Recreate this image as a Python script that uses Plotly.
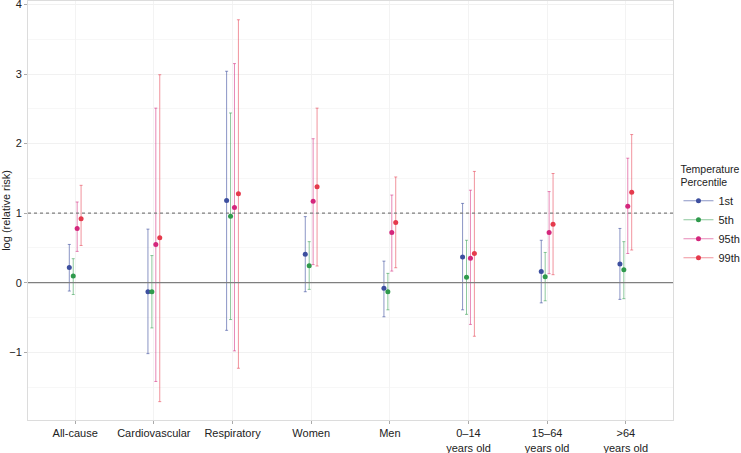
import plotly.graph_objects as go

categories = ["All-cause", "Cardiovascular", "Respiratory", "Women", "Men",
              "0–14<br>years old", "15–64<br>years old", ">64<br>years old"]
series_names = ["1st", "5th", "95th", "99th"]

est_1st = [0.22, -0.13, 1.18, 0.41, -0.08, 0.37, 0.16, 0.27]
low_1st = [-0.12, -1.02, -0.685, -0.13, -0.49, -0.39, -0.29, -0.24]
up_1st = [0.55, 0.77, 3.04, 0.95, 0.31, 1.14, 0.61, 0.78]

est_5th = [0.095, -0.13, 0.957, 0.244, -0.13, 0.08, 0.086, 0.187]
low_5th = [-0.17, -0.65, -0.53, -0.096, -0.39, -0.455, -0.26, -0.23]
up_5th = [0.345, 0.39, 2.44, 0.59, 0.134, 0.61, 0.435, 0.59]

est_95th = [0.78, 0.55, 1.08, 1.17, 0.72, 0.35, 0.72, 1.10]
low_95th = [0.45, -1.42, -0.98, 0.26, 0.167, -0.60, 0.13, 0.42]
up_95th = [1.16, 2.51, 3.15, 2.07, 1.26, 1.33, 1.31, 1.79]

est_99th = [0.92, 0.645, 1.28, 1.38, 0.866, 0.42, 0.84, 1.30]
low_99th = [0.535, -1.71, -1.23, 0.24, 0.215, -0.77, 0.115, 0.47]
up_99th = [1.40, 2.99, 3.78, 2.51, 1.52, 1.60, 1.57, 2.13]

estimates = [est_1st, est_5th, est_95th, est_99th]
lowers = [low_1st, low_5th, low_95th, low_99th]
uppers = [up_1st, up_5th, up_95th, up_99th]

colors = ["#3d4f9f", "#2f9a4c", "#d4267c", "#e53a4c"]
bar_colors = ["rgba(61,79,159,0.6)", "rgba(47,154,76,0.55)",
              "rgba(212,38,124,0.55)", "rgba(229,58,76,0.55)"]
offsets = [-0.075, -0.025, 0.025, 0.075]

fig = go.Figure()

for k, name in enumerate(series_names):
    xs = [i + 1 + offsets[k] for i in range(len(categories))]
    est = estimates[k]
    plus = [u - e for u, e in zip(uppers[k], est)]
    minus = [e - l for e, l in zip(est, lowers[k])]
    fig.add_trace(go.Scatter(
        x=xs, y=est, mode="markers", showlegend=False,
        marker=dict(color=colors[k], size=5),
        error_y=dict(type="data", symmetric=False, array=plus, arrayminus=minus,
                     color=bar_colors[k], thickness=1, width=1.5),
    ))

for k, name in enumerate(series_names):
    fig.add_trace(go.Scatter(
        x=[None], y=[None], mode="lines+markers", name=name,
        line=dict(color=bar_colors[k], width=1),
        marker=dict(color=colors[k], size=5),
    ))

fig.add_hline(y=0, line=dict(color="#7f7f7f", width=1.2))
fig.add_hline(y=1, line=dict(color="#7f7f7f", width=1.2, dash="dot"))

fig.update_layout(
    width=741, height=453,
    margin=dict(l=28, r=68, t=1, b=33, autoexpand=False),
    paper_bgcolor="white", plot_bgcolor="white",
    font=dict(family="Liberation Sans, Arial, sans-serif", size=11, color="#222"),
    legend=dict(
        title=dict(text="Temperature<br>Percentile", font=dict(size=10.5)),
        x=1.0085, xanchor="left", y=0.623, yanchor="top",
        font=dict(size=11), tracegroupgap=0, itemwidth=30,
        bgcolor="rgba(0,0,0,0)",
    ),
    xaxis=dict(
        range=[0.4, 8.6], tickmode="array", automargin=False,
        tickvals=list(range(1, len(categories) + 1)), ticktext=categories,
        showgrid=True, gridcolor="#f3f3f3", gridwidth=1,
        zeroline=False, showline=True, linecolor="#dcdcdc", mirror=True,
        ticks="outside", ticklen=3, tickcolor="#aaaaaa",
        tickfont=dict(size=11, color="#222"), ticklabeloverflow="allow",
    ),
    yaxis=dict(
        range=[-1.974, 4.05], tickmode="array", tickvals=[-1, 0, 1, 2, 3, 4],
        automargin=False, ticklabeloverflow="allow",
        showgrid=True, gridcolor="#f1f1f1", gridwidth=1,
        minor=dict(tickvals=[-1.5, -0.5, 0.5, 1.5, 2.5, 3.5], showgrid=True,
                   gridcolor="#f7f7f7", gridwidth=1),
        zeroline=False, showline=True, linecolor="#dcdcdc", mirror=True,
        ticks="outside", ticklen=3, tickcolor="#aaaaaa",
        tickfont=dict(size=11, color="#222"),
        title=dict(text="log (relative risk)", font=dict(size=11), standoff=5),
    ),
)

fig.write_html("out.html",
               config={"displayModeBar": False},
               post_script="document.body.style.margin='0';document.body.style.overflow='hidden';")
